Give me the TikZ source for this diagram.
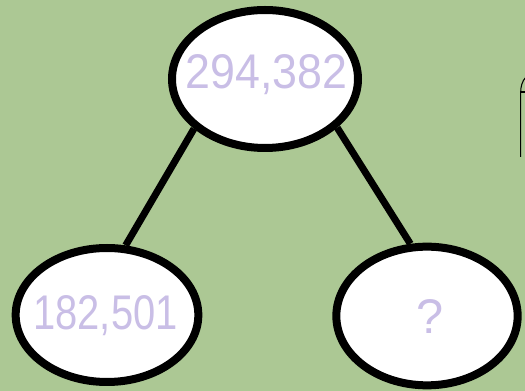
\documentclass[tikz,border=0pt]{standalone}
\usepackage{fontspec}
\setmainfont{Liberation Sans}
\usetikzlibrary{shapes.geometric}
\definecolor{bggreen}{RGB}{172,200,148}
\definecolor{numlav}{RGB}{201,190,230}
\begin{document}
\begin{tikzpicture}[x=0.75pt, y=-0.75pt,
    bubble/.style={ellipse, draw=black, fill=white, line width=6pt, inner sep=0pt},
    num/.style={text=numlav, font=\fontsize{36.5}{36.5}\selectfont},
    branch/.style={line width=5.25pt}]
  \fill[bggreen] (0,0) rectangle (525,391);
  \useasboundingbox (0,0) rectangle (525,391);
  % cut-off shape at the right edge
  \draw[line width=0.8pt] (526,77) .. controls (522,81) and (520.7,87) .. (520.7,92) -- (520.7,157);
  \draw[line width=0.8pt] (520.7,92) -- (526,92);
  \node[bubble, minimum width=139.5pt, minimum height=103.5pt] (top) at (265,79) {};
  \node[bubble, minimum width=137pt, minimum height=100.5pt] (left) at (107,315) {};
  \node[bubble, minimum width=136pt, minimum height=104pt] (right) at (427,316) {};
  \draw[branch] (top.215.8) -- (left.75.6);
  \draw[branch] (top.-34) -- (right.103.5);
  \node[num] (toptext) at (266.5,75) {\makebox[0pt]{\scalebox{0.92}[1]{294,382}}};
  \node[num] (lefttext) at (105.5,316) {\makebox[0pt]{\scalebox{0.82}[1]{182,501}}};
  \node[num] (righttext) at (430,317) {\makebox[0pt]{?}};
\end{tikzpicture}
\end{document}
